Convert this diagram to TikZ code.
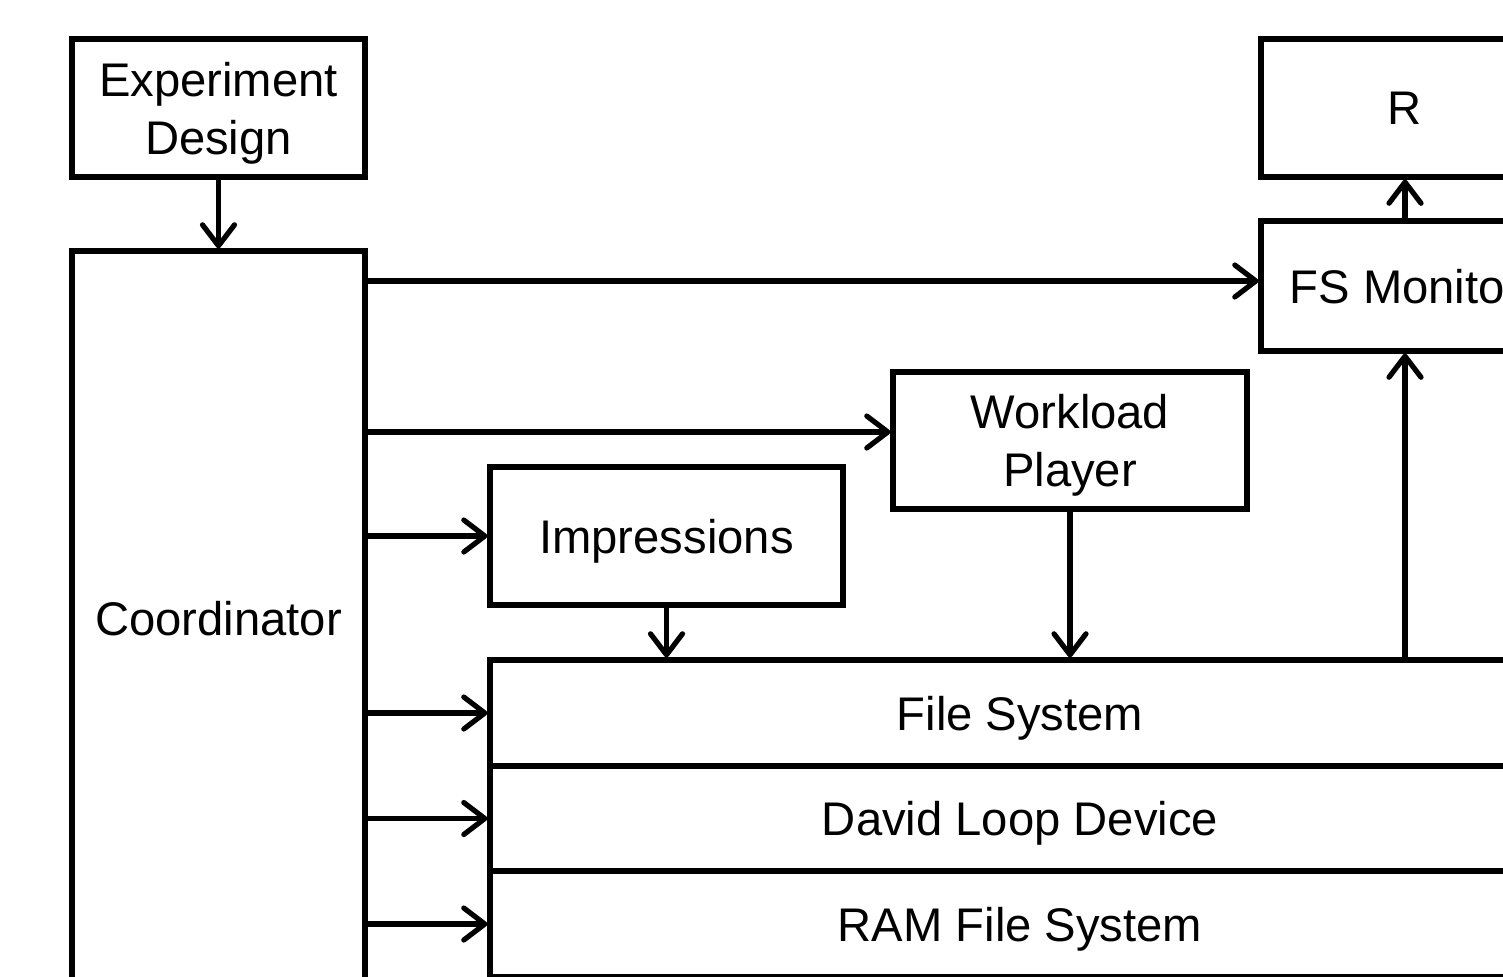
\documentclass[tikz,border=0pt]{standalone}
\usepackage{fontspec}
\setmainfont{Liberation Sans}
\usetikzlibrary{arrows.meta}
\begin{document}
\begin{tikzpicture}[x=0.5pt,y=-0.5pt,
  box/.style={draw,line width=2.6pt,inner sep=0pt,text depth=0pt,align=center,font=\fontsize{23.6pt}{29pt}\selectfont},
  arr/.style={line width=2.6pt,-{Straight Barb[length=10.5pt,width=16pt,line cap=round,line join=round]}}]
\useasboundingbox (0,0) rectangle (1503,976);
\clip (0,0) rectangle (1503,976);
\node[box,minimum width=146.5pt,minimum height=69pt] (ed) at (218.5,108) {Experiment\\Design};
\node[box,minimum width=146.5pt,minimum height=367pt] (co) at (218.5,618) {Coordinator};
\node[box,minimum width=144pt,minimum height=69pt] (r) at (1405,108) {R};
\node[box,minimum width=144pt,minimum height=65pt] (fsm) at (1405,286) {FS Monitor};
\node[box,minimum width=177pt,minimum height=68.5pt] (wp) at (1070,440.5) {Workload\\Player};
\node[box,minimum width=176.5pt,minimum height=69pt] (imp) at (666.5,536) {Impressions};
\node[box,minimum width=530pt,minimum height=53pt] (fs) at (1020,713) {File System};
\node[box,minimum width=530pt,minimum height=52.5pt] (dld) at (1020,818.5) {David Loop Device};
\node[box,minimum width=530pt,minimum height=53pt] (ram) at (1020,924) {RAM File System};
\draw[arr] (ed) -- (co);
\draw[arr] (fsm) -- (r);
\draw[arr] (co.east |- 0,281) -- (fsm.west |- 0,281);
\draw[arr] (co.east |- 0,432) -- (wp.west |- 0,432);
\draw[arr] (co.east |- imp.west) -- (imp.west);
\draw[arr] (co.east |- fs.west) -- (fs.west);
\draw[arr] (co.east |- dld.west) -- (dld.west);
\draw[arr] (co.east |- ram.west) -- (ram.west);
\draw[arr] (imp.south) -- (imp.south |- fs.north);
\draw[arr] (wp.south) -- (wp.south |- fs.north);
\draw[arr] (fsm.south |- fs.north) -- (fsm.south);
\end{tikzpicture}
\end{document}
